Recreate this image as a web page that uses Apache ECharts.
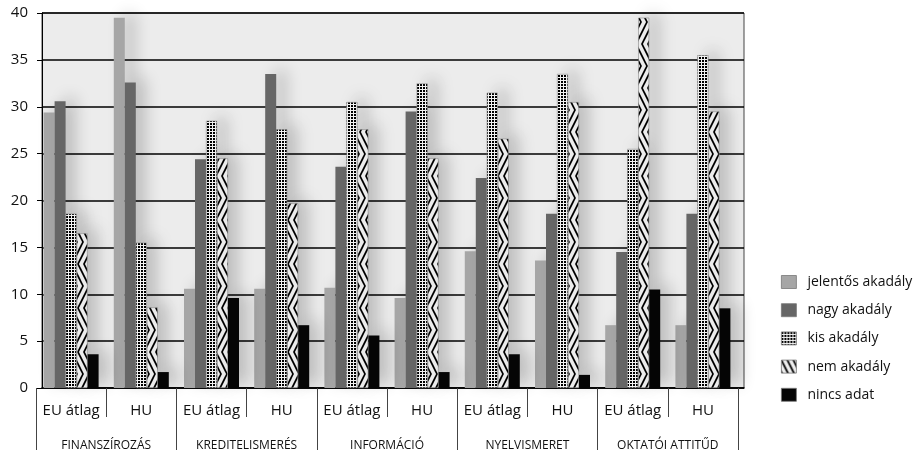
<!DOCTYPE html>
<html><head><meta charset="utf-8">
<script src="https://cdn.jsdelivr.net/npm/echarts/dist/echarts.min.js"></script>
<style>html,body{margin:0;padding:0;background:#fff}#c{width:920px;height:456px}</style>
</head><body><div id="c"></div>
<script>
const categories = ['EU átlag','HU','EU átlag','HU','EU átlag','HU','EU átlag','HU','EU átlag','HU'];
const groups = ['FINANSZÍROZÁS','KREDITELISMERÉS','INFORMÁCIÓ','NYELVISMERET','OKTATÓI ATTITŰD'];
const seriesNames = ['jelentős akadály','nagy akadály','kis akadály','nem akadály','nincs adat'];
const yTicks = {min:0, max:40, interval:5};
const jelentos = [29.4,39.5,10.6,10.6,10.7,9.6,14.6,13.6,6.7,6.7];
const nagy     = [30.6,32.6,24.4,33.5,23.6,29.5,22.4,18.6,14.5,18.6];
const kis      = [18.6,15.5,28.5,27.6,30.5,32.5,31.5,33.5,25.5,35.5];
const nem      = [16.5,8.6,24.5,19.7,27.6,24.5,26.6,30.5,39.5,29.5];
const nincs    = [3.6,1.7,9.6,6.7,5.6,1.7,3.6,1.4,10.5,8.5];
const values = [jelentos, nagy, kis, nem, nincs];

function gridPattern(){
  const c=document.createElement('canvas');c.width=3;c.height=3;
  const g=c.getContext('2d');g.fillStyle='#f4f4f4';g.fillRect(0,0,3,3);
  g.fillStyle='#000';g.fillRect(0,0,2,2);
  return c;
}
// herringbone (nested chevrons) tile, continuous horizontally
function herringPattern(){
  const P=6, S=2, H=22; // stripe spacing, slope, band height
  const c=document.createElement('canvas');c.width=P;c.height=2*H;
  const g=c.getContext('2d');g.fillStyle='#ededed';g.fillRect(0,0,P,2*H);
  g.strokeStyle='#000';g.lineWidth=1.7;
  function lines(){
    for(let k=-12;k<=12;k++){
      g.beginPath();g.moveTo(k*P-30,-S*30);g.lineTo(k*P+30,S*30);g.stroke();
    }
  }
  g.save();g.beginPath();g.rect(0,0,P,H);g.clip();lines();g.restore();
  g.save();g.beginPath();g.rect(0,H,P,H);g.clip();g.translate(0,2*H);g.scale(1,-1);lines();g.restore();
  return c;
}
const colors = ['#a6a6a6','#666666',{image:gridPattern(),repeat:'repeat'},{image:herringPattern(),repeat:'repeat'},'#050505'];

const chart = echarts.init(document.getElementById('c'));
chart.setOption({
  animation:false,
  textStyle:{fontFamily:'Open Sans'},
  grid:[
    {left:42,right:176,top:13,bottom:68,show:true,backgroundColor:'#ececec',borderColor:'#444',borderWidth:1},
    {left:36,right:182,top:13,bottom:68}
  ],
  legend:{
    orient:'vertical',left:776,top:270,itemWidth:15,itemHeight:13,itemGap:14.2,icon:'rect',
    textStyle:{fontSize:14,color:'#111',padding:[0,0,0,6]},
    data:seriesNames.map((n,i)=>({name:n,itemStyle:{borderColor:'#777',borderWidth:0.8}}))
  },
  xAxis:[
    {gridIndex:0,type:'category',data:categories,axisLine:{lineStyle:{color:'#000',width:1.5}},axisTick:{show:false},axisLabel:{show:false}},
    {gridIndex:1,type:'category',data:categories,axisLine:{show:false},
     axisTick:{show:true,interval:0,length:29,lineStyle:{color:'#444'}},
     axisLabel:{interval:0,fontSize:15,color:'#111',margin:15}},
    {gridIndex:1,type:'category',data:groups,position:'bottom',axisLine:{show:false},
     axisTick:{show:true,interval:0,length:62,lineStyle:{color:'#444'}},
     axisLabel:{interval:0,fontSize:12,color:'#111',margin:52}}
  ],
  yAxis:[
    {gridIndex:0,type:'value',min:yTicks.min,max:yTicks.max,interval:yTicks.interval,
     axisLine:{show:true,lineStyle:{color:'#000'}},axisTick:{show:true,length:5,lineStyle:{color:'#000'}},
     axisLabel:{fontSize:15,color:'#111',margin:14},
     splitLine:{lineStyle:{color:'#000',width:1.5}}},
    {gridIndex:1,type:'value',min:yTicks.min,max:yTicks.max,show:false,splitLine:{show:false}}
  ],
  series: seriesNames.map((n,i)=>({
    name:n,type:'bar',xAxisIndex:1,yAxisIndex:1,data:values[i],barWidth:11,barGap:'0%',
    itemStyle:{color:colors[i],borderColor:(i===2||i===3)?'#888':null,borderWidth:(i===2||i===3)?0.6:0,
      shadowBlur:16,shadowColor:'rgba(0,0,0,0.2)',shadowOffsetX:10,shadowOffsetY:-4}
  }))
});
</script></body></html>
